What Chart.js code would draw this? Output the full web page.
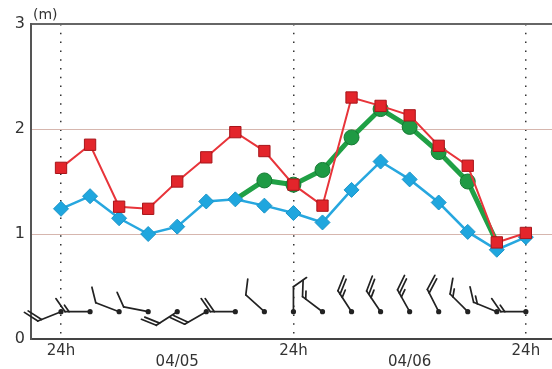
<!DOCTYPE html>
<html>
<head>
<meta charset="utf-8">
<script src="https://cdn.jsdelivr.net/npm/chart.js@4.4.1/dist/chart.umd.min.js"></script>
<style>
  html, body { margin: 0; padding: 0; background: #fff; }
  #wrap { width: 552px; height: 369px; }
</style>
</head>
<body>
<div id="wrap"><canvas id="wave" width="552" height="369"></canvas></div>
<script>
// 3-hourly steps from 04/04 24h to 04/06 24h
const hours = [0, 3, 6, 9, 12, 15, 18, 21, 24, 27, 30, 33, 36, 39, 42, 45, 48];
const tickHours = [0, 12, 24, 36, 48];
const tickLabels = ['24h', ['', '04/05'], '24h', ['', '04/06'], '24h'];

const waveHigh = [1.63, 1.85, 1.26, 1.24, 1.50, 1.73, 1.97, 1.79, 1.47, 1.27, 2.30, 2.22, 2.13, 1.84, 1.65, 0.92, 1.01];
const waveMean = [1.24, 1.36, 1.15, 1.00, 1.07, 1.31, 1.33, 1.27, 1.20, 1.11, 1.42, 1.69, 1.52, 1.30, 1.02, 0.85, 0.97];
const waveObserved = [null, null, null, null, null, null, 1.33, 1.51, 1.47, 1.61, 1.92, 2.19, 2.02, 1.78, 1.50, 0.92, null];

// wind barbs: direction the wind comes from (deg) and speed (kt)
const windDir = [248, 270, 291, 281, 237, 240, 270, 312, 0, 307, 327, 326, 331, 333, 315, 292, 270];
const windSpeed = [20, 15, 10, 10, 20, 20, 20, 10, 10, 15, 25, 25, 25, 20, 15, 15, 15];

const font = 'DejaVu Sans, Liberation Sans, Arial, sans-serif';

function toPoints(values) {
  return hours.map((h, i) => ({ x: h, y: values[i] }));
}

const barbPlugin = {
  id: 'barbs',
  afterDatasetsDraw(chart) {
    const { ctx, scales } = chart;
    const baseY = scales.y.getPixelForValue(0.26);
    const shaft = 25;
    ctx.save();
    ctx.strokeStyle = '#222';
    ctx.fillStyle = '#222';
    ctx.lineWidth = 1.7;
    ctx.lineCap = 'round';
    ctx.lineJoin = 'round';
    hours.forEach((h, i) => {
      const px = scales.x.getPixelForValue(h);
      const a = windDir[i] * Math.PI / 180;
      const ux = Math.sin(a);
      const uy = -Math.cos(a);
      const ex = px + ux * shaft;
      const ey = baseY + uy * shaft;
      ctx.beginPath();
      ctx.moveTo(px, baseY);
      ctx.lineTo(ex, ey);
      ctx.stroke();

      const fa = a + 55 * Math.PI / 180;
      const fx = Math.sin(fa);
      const fy = -Math.cos(fa);
      let speed = windSpeed[i];
      let pos = 0;
      const feather = (len) => {
        const sx = ex - ux * pos;
        const sy = ey - uy * pos;
        ctx.beginPath();
        ctx.moveTo(sx, sy);
        ctx.lineTo(sx + fx * len, sy + fy * len);
        ctx.stroke();
        pos += 4;
      };
      while (speed >= 10) {
        feather(16);
        speed -= 10;
      }
      if (speed >= 5) feather(8);

      ctx.beginPath();
      ctx.arc(px, baseY, 2.6, 0, Math.PI * 2);
      ctx.fill();
    });
    ctx.restore();
  },
  afterDraw(chart) {
    const { ctx } = chart;
    ctx.save();
    ctx.fillStyle = '#333';
    ctx.font = `14px ${font}`;
    ctx.textAlign = 'left';
    ctx.textBaseline = 'middle';
    ctx.fillText('(m)', 33, 15);
    ctx.restore();
  },
};

new Chart(document.getElementById('wave'), {
  type: 'line',
  data: {
    datasets: [
      {
        label: 'high',
        data: toPoints(waveHigh),
        order: 1,
        borderColor: '#e8343a',
        borderWidth: 2,
        pointStyle: 'rect',
        pointRadius: 8,
        pointBackgroundColor: '#e3252b',
        pointBorderColor: '#a8151a',
        pointBorderWidth: 1,
        tension: 0,
      },
      {
        label: 'mean',
        data: toPoints(waveMean),
        order: 2,
        borderColor: '#27a7df',
        borderWidth: 2.5,
        pointStyle: 'rectRot',
        pointRadius: 7.5,
        pointBackgroundColor: '#1fa6de',
        pointBorderColor: '#1a94c8',
        pointBorderWidth: 1,
        tension: 0,
      },
      {
        label: 'observed',
        data: toPoints(waveObserved),
        order: 3,
        borderColor: '#20a045',
        borderWidth: 5,
        pointStyle: 'circle',
        pointRadius: waveObserved.map((v, i) => (v === null || i === 6 || i === 15 ? 0 : 7.5)),
        pointBackgroundColor: '#1f9a44',
        pointBorderColor: '#157a32',
        pointBorderWidth: 1,
        tension: 0,
        spanGaps: false,
      },
    ],
  },
  options: {
    responsive: false,
    animation: false,
    layout: { autoPadding: false, padding: { top: 24, left: 0, right: 0, bottom: 0 } },
    plugins: {
      legend: { display: false },
      title: { display: false },
      tooltip: { enabled: false },
    },
    scales: {
      x: {
        type: 'linear',
        min: -3.1,
        max: 50.7,
        afterBuildTicks: (scale) => {
          scale.ticks = tickHours.map((v) => ({ value: v }));
        },
        afterFit: (scale) => {
          scale.height = 30;
          scale.paddingLeft = 0;
          scale.paddingRight = 0;
        },
        ticks: {
          autoSkip: false,
          maxRotation: 0,
          padding: 7,
          color: '#333',
          font: { family: font, size: 15, lineHeight: '11px' },
          callback: (value) => tickLabels[tickHours.indexOf(value)],
        },
        grid: {
          drawTicks: false,
          color: (c) => (c.tick && c.tick.value % 24 === 0 ? '#333' : 'rgba(0,0,0,0)'),
          lineWidth: 1.5,
        },
        border: { color: '#444', width: 2, dash: [1.5, 7.3] },
      },
      y: {
        min: 0,
        max: 3,
        afterFit: (scale) => {
          scale.width = 31;
        },
        ticks: {
          stepSize: 1,
          padding: 6,
          color: '#333',
          font: { family: font, size: 16 },
        },
        grid: {
          drawTicks: false,
          color: (c) => {
            if (!c.tick) return 'rgba(0,0,0,0)';
            if (c.tick.value === 3) return '#666';
            if (c.tick.value === 0) return 'rgba(0,0,0,0)';
            return '#d6b6ae';
          },
          lineWidth: (c) => (c.tick && c.tick.value === 3 ? 2 : 1),
        },
        border: { color: '#555', width: 2 },
      },
    },
  },
  plugins: [barbPlugin],
});
</script>
</body>
</html>
